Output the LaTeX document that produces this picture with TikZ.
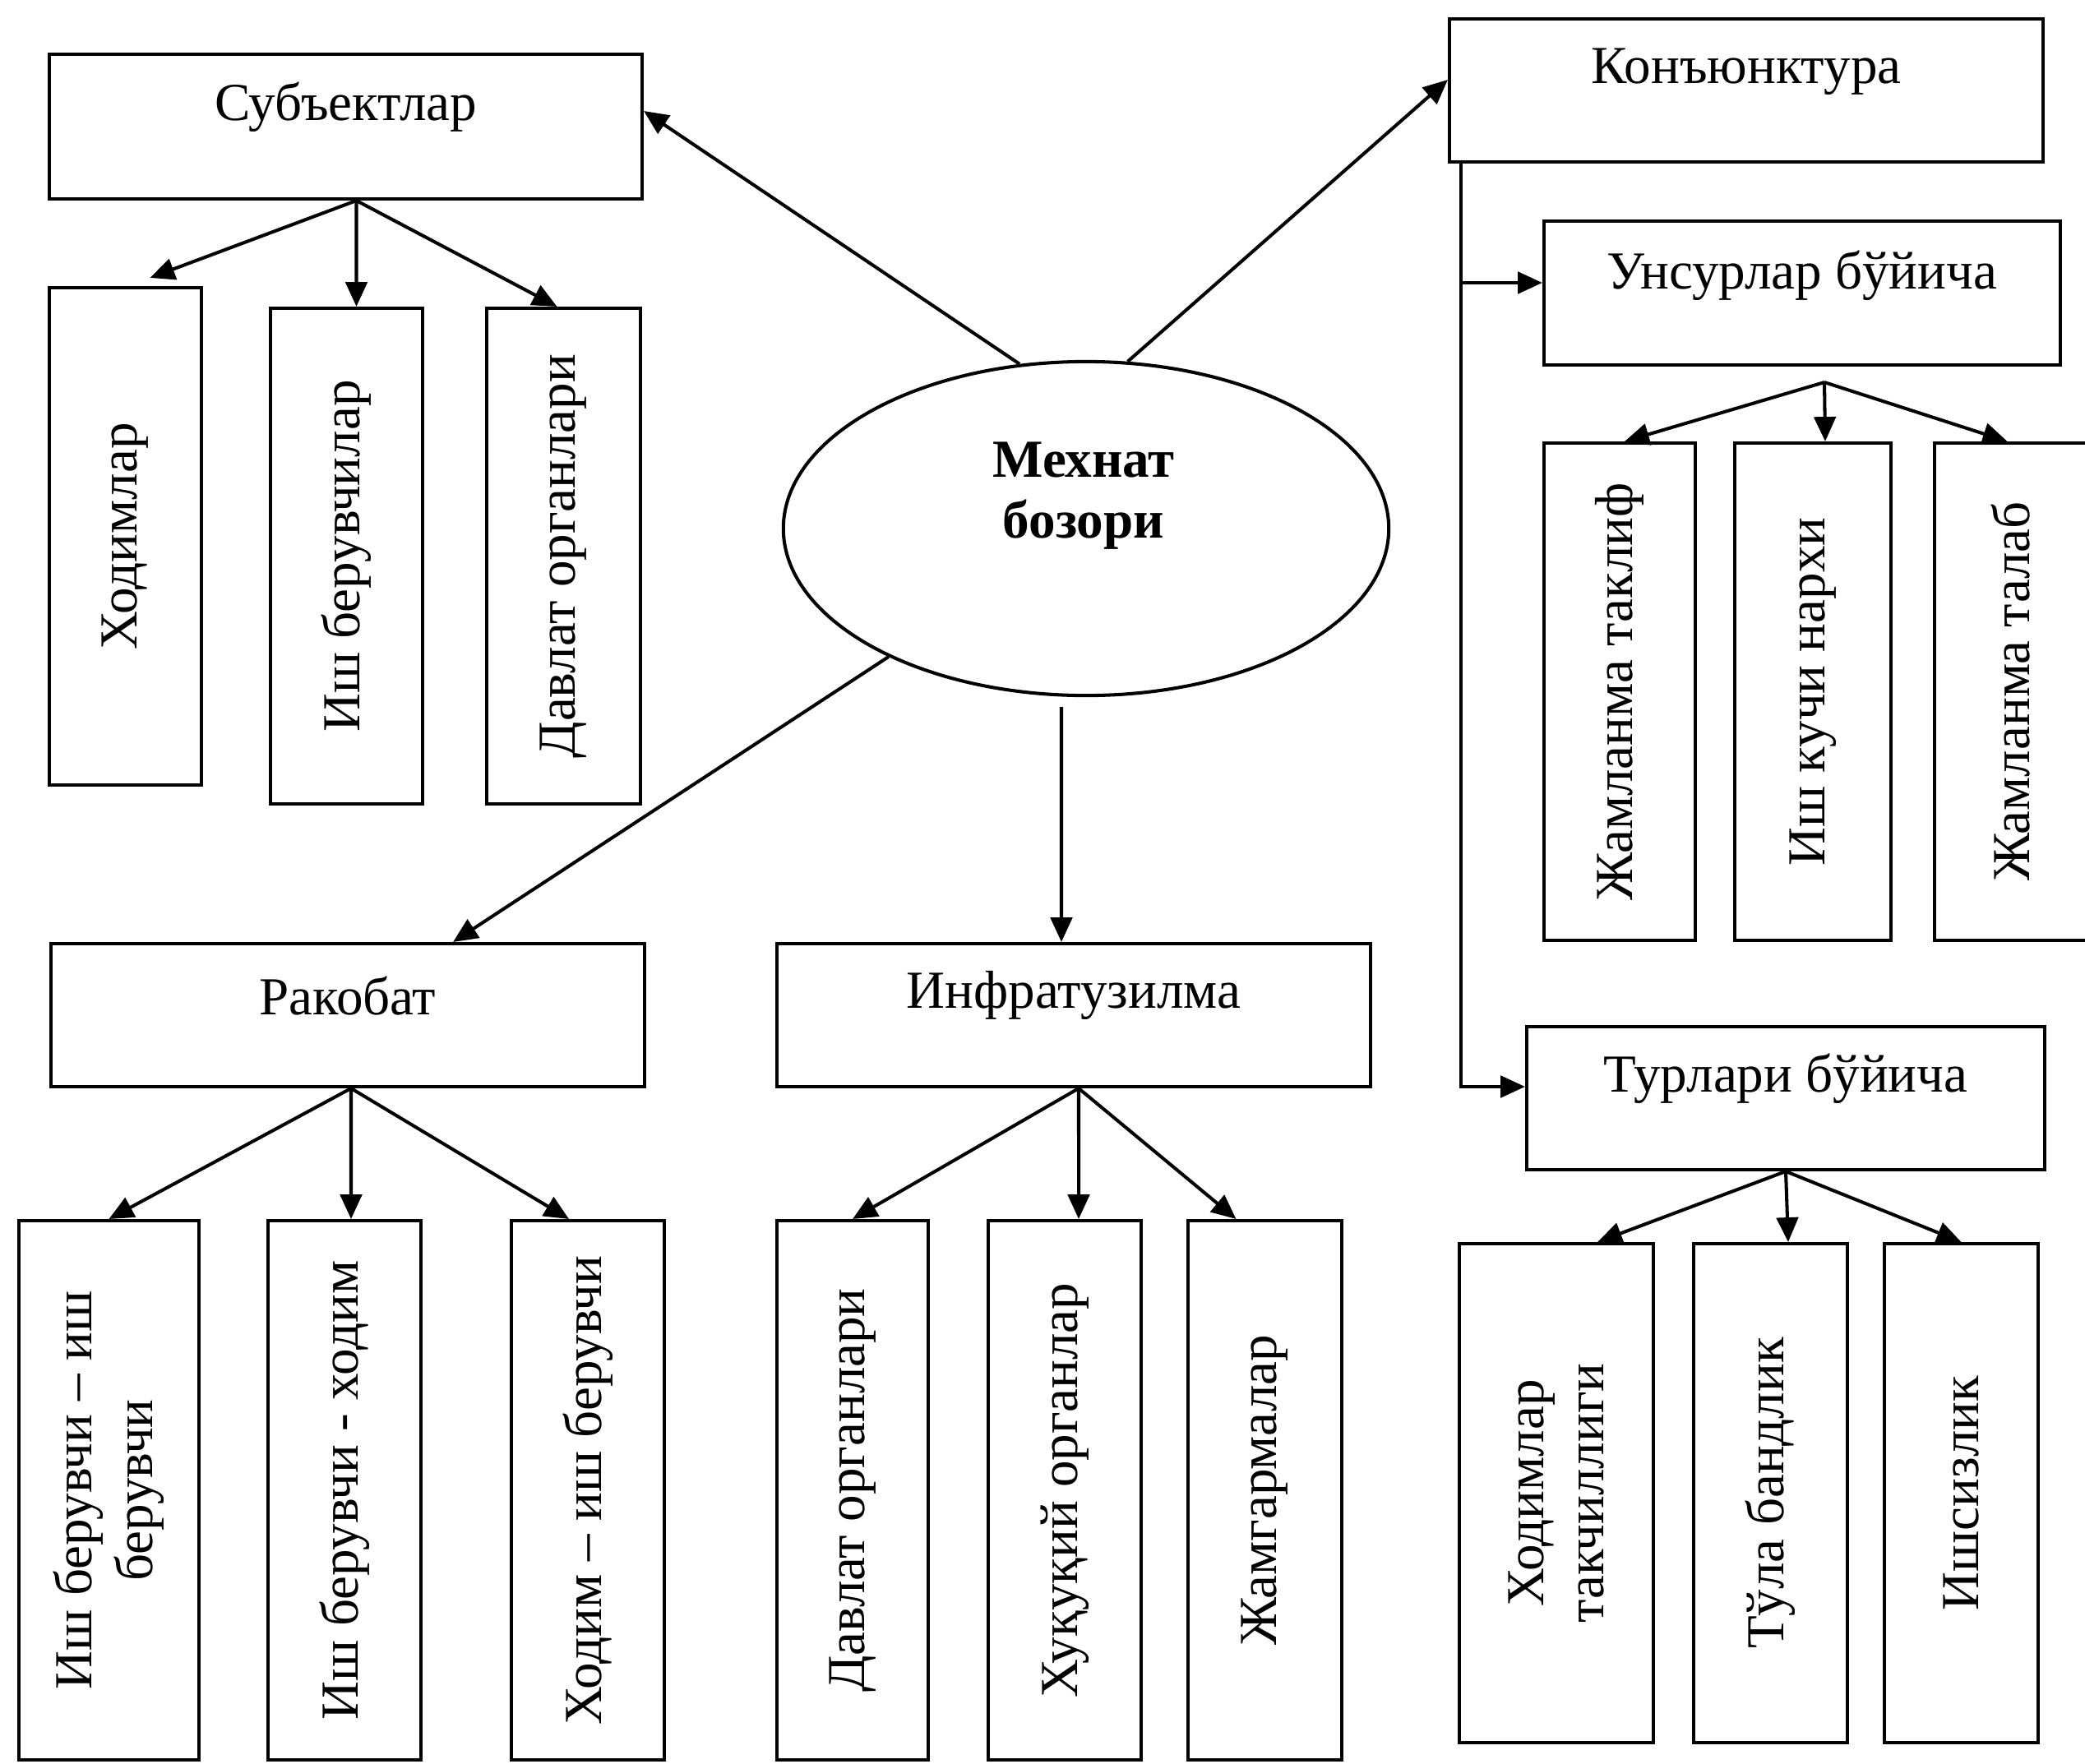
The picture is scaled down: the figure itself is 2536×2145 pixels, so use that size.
\documentclass[tikz,border=0pt]{standalone}
\usepackage{fontspec}
\setmainfont{Liberation Serif}
\usetikzlibrary{arrows.meta,shapes.geometric,fit}
\begin{document}
\begin{tikzpicture}[x=0.01cm,y=-0.01cm,
  box/.style={draw, line width=1.15pt, inner sep=0pt},
  lbl/.style={font=\fontsize{18.5}{21}\selectfont, inner sep=0pt, align=center},
  vlbl/.style={lbl, rotate=90},
  arr/.style={line width=1.15pt, -{Triangle[length=8.5pt,width=7.5pt]}},
  ln/.style={line width=1.15pt}]
\useasboundingbox (0,0) rectangle (2536,2145);

% central ellipse
\node[draw, ellipse, line width=1.15pt, minimum width=7.36cm, minimum height=4.06cm, inner sep=0pt] (ell) at (1321,643) {};
\node[lbl, font=\fontsize{18.5}{21}\selectfont\bfseries] (ellt) at (1318,603) {Мехнат\\бозори};

% Subjects
\node[box, fit={(60,66) (781,242)}] (sub) {};
\node[lbl] (subt) at ([yshift=-0.66cm]sub.north) {Субъектлар};
\node[box, fit={(60,350) (245,955)}] (khod) {};
\node[vlbl] (khodt) at (khod) {Ходимлар};
\node[box, fit={(329,375) (514,978)}] (ish) {};
\node[vlbl] (isht) at (ish) {Иш берувчилар};
\node[box, fit={(592,375) (779,978)}] (dav) {};
\node[vlbl] (davt) at (dav) {Давлат органлари};

% Conjuncture
\node[box, fit={(1763,23) (2485,197)}] (kon) {};
\node[lbl] (kont) at ([yshift=-0.66cm]kon.north) {Конъюнктура};
\node[box, fit={(1878,269) (2506,444)}] (uns) {};
\node[lbl] (unst) at ([yshift=-0.68cm]uns.north) {Унсурлар бўйича};
\node[box, fit={(1878,539) (2062,1144)}] (jt) {};
\node[vlbl] (jtt) at (jt) {Жамланма таклиф};
\node[box, fit={(2110,539) (2300,1144)}] (ikn) {};
\node[vlbl] (iknt) at (ikn) {Иш кучи нархи};
\node[box, fit={(2353,539) (2548,1144)}] (jtal) {};
\node[vlbl] (jtalt) at (2446,841) {Жамланма талаб};
\node[box, fit={(1857,1249) (2487,1423)}] (tur) {};
\node[lbl] (turt) at ([yshift=-0.65cm]tur.north) {Турлари бўйича};
\node[box, fit={(1775,1513) (2011,2120)}] (t1) {};
\node[vlbl] (t1t) at (t1) {Ходимлар\\такчиллиги};
\node[box, fit={(2060,1513) (2247,2120)}] (t2) {};
\node[vlbl] (t2t) at (t2) {Тўла бандлик};
\node[box, fit={(2292,1513) (2479,2120)}] (t3) {};
\node[vlbl] (t3t) at (t3) {Ишсизлик};

% Competition
\node[box, fit={(62,1148) (784,1322)}] (rak) {};
\node[lbl] (rakt) at ([yshift=-0.65cm]rak.north) {Ракобат};
\node[box, fit={(23,1485) (242,2141)}] (r1) {};
\node[vlbl] (r1t) at (r1) {Иш берувчи – иш\\берувчи};
\node[box, fit={(326,1485) (512,2141)}] (r2) {};
\node[vlbl] (r2t) at (r2) {Иш берувчи - ходим};
\node[box, fit={(622,1485) (808,2141)}] (r3) {};
\node[vlbl] (r3t) at (r3) {Ходим – иш берувчи};

% Infrastructure
\node[box, fit={(945,1148) (1667,1322)}] (inf) {};
\node[lbl] (inft) at ([yshift=-0.65cm]inf.north) {Инфратузилма};
\node[box, fit={(945,1485) (1129,2141)}] (i1) {};
\node[vlbl] (i1t) at (i1) {Давлат органлари};
\node[box, fit={(1202,1485) (1388,2141)}] (i2) {};
\node[vlbl] (i2t) at (i2) {Хуқуқий органлар};
\node[box, fit={(1445,1485) (1632,2141)}] (i3) {};
\node[vlbl] (i3t) at (i3) {Жамгармалар};

% arrows from ellipse
\draw[arr] (ell.112) -- ([yshift=0.19cm]sub.east);
\draw[arr] (ell.76) -- ([yshift=0.13cm]kon.west);
\draw[arr] (ell.213) -- ([xshift=1.28cm]rak.north);
\draw[arr] ([xshift=-0.3cm,yshift=-0.12cm]ell.south) -- ([xshift=-0.15cm]inf.north);

% subjects children
\coordinate (so) at ([xshift=0.13cm]sub.south);
\draw[arr] (so) -- ([xshift=0.3cm,yshift=0.1cm]khod.north);
\draw[arr] (so) -- ([xshift=0.12cm]ish.north);
\draw[arr] (so) -- ([xshift=-0.08cm]dav.north);

% conjuncture line
\coordinate (kl) at ([xshift=0.16cm]kon.south west);
\coordinate (ua) at ([yshift=0.125cm]uns.west);
\draw[arr] (kl) |- ([yshift=0.14cm]tur.west);
\draw[arr] (kl |- ua) -- (ua);

% unsurlar children
\coordinate (uo) at ([xshift=0.27cm,yshift=-0.19cm]uns.south);
\draw[arr] (uo) -- ([xshift=0.06cm]jt.north);
\draw[arr] (uo) -- ([xshift=0.15cm]ikn.north);
\draw[arr] (uo) -- ([xshift=-0.09cm]jtal.north);

% turlari children
\coordinate (to) at (tur.south);
\draw[arr] (to) -- ([xshift=0.5cm]t1.north);
\draw[arr] (to) -- ([xshift=0.215cm]t2.north);
\draw[arr] (to) -- (t3.north);

% rakobat children
\coordinate (ro) at ([xshift=0.04cm]rak.south);
\draw[arr] (ro) -- (r1.north);
\draw[arr] (ro) -- ([xshift=0.08cm]r2.north);
\draw[arr] (ro) -- ([xshift=-0.23cm]r3.north);

% infra children
\coordinate (io) at ([xshift=0.06cm]inf.south);
\draw[arr] (io) -- (i1.north);
\draw[arr] (io) -- ([xshift=0.17cm]i2.north);
\draw[arr] (io) -- ([xshift=-0.35cm]i3.north);
\end{tikzpicture}
\end{document}
